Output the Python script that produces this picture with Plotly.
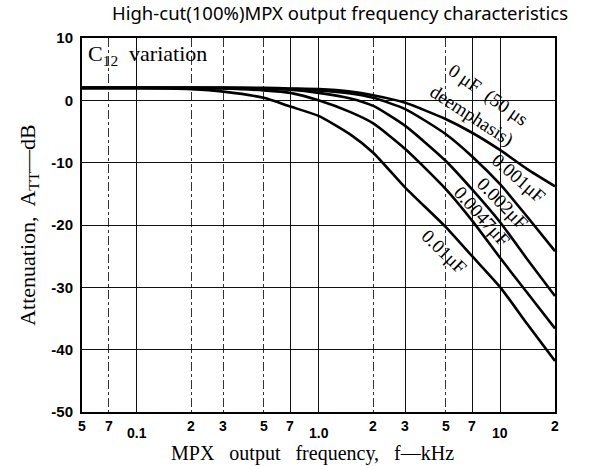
import numpy as np
import plotly.graph_objects as go

# ---- data ----
freq_khz = [0.05, 0.1, 0.2, 0.3, 0.5, 0.7, 1.0, 1.5, 2, 3, 5, 7, 10, 14, 20]
att_0uF = [2.0, 2.0, 2.0, 2.0, 2.0, 1.9, 1.8, 1.4, 0.8, -0.4, -3.0, -5.2, -8.0, -11.0, -13.8]
att_0001uF = [2.0, 2.0, 2.0, 2.0, 1.9, 1.8, 1.6, 1.1, 0.4, -1.4, -5.4, -9.0, -13.5, -18.6, -24.2]
att_0002uF = [2.0, 2.0, 2.0, 2.0, 1.9, 1.7, 1.2, 0.3, -0.9, -4.1, -9.7, -14.3, -19.6, -25.4, -31.4]
att_00047uF = [2.0, 2.0, 2.0, 1.9, 1.6, 1.2, 0.0, -1.9, -3.7, -7.8, -14.2, -19.3, -25.3, -30.8, -36.6]
att_001uF = [2.0, 2.0, 1.8, 1.4, 0.4, -1.0, -2.5, -5.5, -8.4, -14.0, -20.3, -25.0, -30.0, -35.8, -41.8]
series = [att_0uF, att_0001uF, att_0002uF, att_00047uF, att_001uF]

x_tick_vals = [0.05, 0.07, 0.1, 0.2, 0.3, 0.5, 0.7, 1, 2, 3, 5, 7, 10, 20]
x_tick_text = ["5", "7", "0.1", "2", "3", "5", "7", "1.0", "2", "3", "5", "7", "10", "2"]
decade_labels = ["0.1", "1.0", "10"]
grid_x_solid = [0.1, 0.7, 1, 3, 7, 10]
grid_x_dash = [0.07, 0.2, 0.3, 0.5, 2, 5]
y_tick_vals = [10, 0, -10, -20, -30, -40, -50]
y_tick_text = ["10", "0", "-10", "-20", "-30", "-40", "-50"]

# curve labels: (text, x kHz, y dB, angle)
curve_labels = [
    ("0 μF  (50 μs", 8.55, 0.85, 35),
    ("deemphasis)", 6.98, -2.5, 33),
    ("0.001μF", 12.7, -12.5, 41),
    ("0.002μF", 10.35, -16.5, 46),
    ("0.0047μF", 7.93, -18.7, 48),
    ("0.01μF", 4.9, -24.3, 44),
]

fig = go.Figure()
for ys in series:
    fig.add_trace(go.Scatter(x=freq_khz, y=ys, mode="lines",
                             line=dict(color="black", width=2.6, shape="spline", smoothing=0.6),
                             showlegend=False, hoverinfo="skip"))

annotations = []
for v, t in zip(x_tick_vals, x_tick_text):
    dec = t in decade_labels
    annotations.append(dict(x=float(np.log10(v)), y=0, xref="x", yref="paper",
                            text=t, showarrow=False, yanchor="middle", xanchor="center",
                            yshift=-21 if dec else -14,
                            font=dict(family="Liberation Sans", size=14, color="black", weight="bold")))
for t, fx, fy, ang in curve_labels:
    annotations.append(dict(x=float(np.log10(fx)), y=fy, xref="x", yref="y", text=t,
                            showarrow=False, textangle=ang,
                            font=dict(family="Liberation Serif", size=19, color="black")))
annotations.append(dict(x=0, y=1, xref="paper", yref="paper", xanchor="left", yanchor="top",
                        xshift=4, yshift=-1,
                        text="C<sub>12</sub>  variation", showarrow=False,
                        font=dict(family="Liberation Serif", size=22, color="black")))
annotations.append(dict(x=0.545, y=1, xref="paper", yref="paper", xanchor="center", yanchor="bottom",
                        yshift=11, text="High-cut(100%)MPX output frequency characteristics",
                        showarrow=False, font=dict(family="Noto Sans", size=18.5, color="black")))
annotations.append(dict(x=0.488, y=0, xref="paper", yref="paper", xanchor="center", yanchor="top",
                        yshift=-28, text="MPX   output   frequency,   f—kHz",
                        showarrow=False, font=dict(family="Liberation Serif", size=20, color="black")))

fig.update_layout(
    width=589, height=466,
    margin=dict(l=82, r=34, t=38, b=54),
    paper_bgcolor="white", plot_bgcolor="white",
    annotations=annotations,
    xaxis=dict(type="log", range=[np.log10(0.05), np.log10(20)],
               tickmode="array", tickvals=grid_x_solid, showticklabels=False, ticks="",
               showgrid=True, gridcolor="#111", gridwidth=1.3,
               minor=dict(tickmode="array", tickvals=grid_x_dash, showgrid=True,
                          gridcolor="#333", gridwidth=1, griddash="dashdot", ticks=""),
               showline=True, mirror=True, linecolor="black", linewidth=2, zeroline=False),
    yaxis=dict(range=[-50, 10], tickmode="array", tickvals=y_tick_vals, ticktext=y_tick_text,
               showgrid=True, gridcolor="#111", gridwidth=1.3, ticks="",
               tickfont=dict(family="Liberation Sans", size=15, color="black", weight="bold"),
               ticklabelstandoff=4,
               showline=True, mirror=True, linecolor="black", linewidth=2, zeroline=False,
               title=dict(text="Attenuation,  A<sub>TT</sub>—dB", standoff=10,
                          font=dict(family="Liberation Serif", size=22, color="black"))),
)

fig.write_html("out.html", config={"displayModeBar": False},
               post_script="document.body.style.margin='0';")
